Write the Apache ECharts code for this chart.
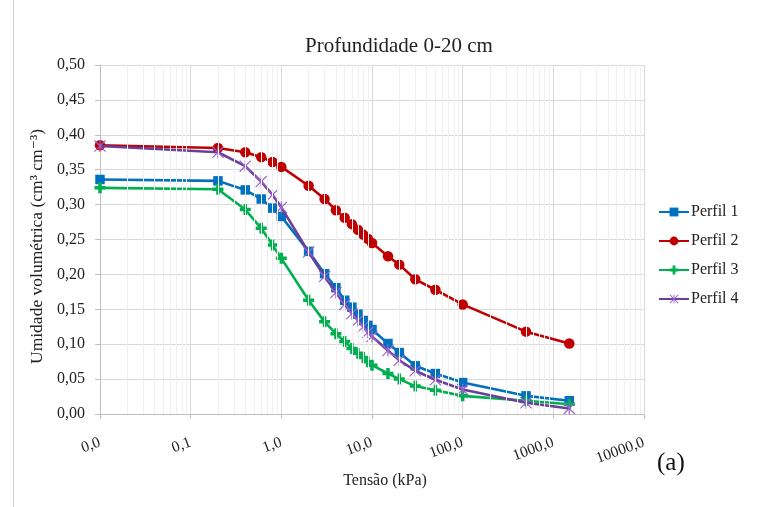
<!DOCTYPE html>
<html>
<head>
<meta charset="utf-8">
<script src="https://cdn.jsdelivr.net/npm/echarts@6/dist/echarts.min.js"></script>
<style>
  html, body { margin: 0; padding: 0; background: #fff; }
  #chart { width: 772px; height: 507px; }
</style>
</head>
<body>
<div id="chart"></div>
<script>
// tensões (kPa) - 0,0 plotado como 0,01 no eixo log
var tensao = [0.01, 0.2, 0.4, 0.6, 0.8, 1, 2, 3, 4, 5, 6, 7, 8, 9, 10, 15, 20, 30, 50, 100, 500, 1500];
var perfil1 = [0.336, 0.334, 0.321, 0.308, 0.295, 0.283, 0.233, 0.201, 0.181, 0.163, 0.153, 0.143, 0.134, 0.127, 0.121, 0.101, 0.088, 0.069, 0.058, 0.045, 0.026, 0.019];
var perfil2 = [0.385, 0.381, 0.375, 0.368, 0.361, 0.354, 0.327, 0.308, 0.292, 0.281, 0.272, 0.264, 0.257, 0.251, 0.245, 0.226, 0.214, 0.193, 0.178, 0.157, 0.118, 0.101];
var perfil3 = [0.324, 0.322, 0.293, 0.266, 0.242, 0.223, 0.163, 0.132, 0.115, 0.104, 0.094, 0.087, 0.081, 0.075, 0.070, 0.058, 0.050, 0.040, 0.034, 0.026, 0.019, 0.014];
var perfil4 = [0.384, 0.375, 0.355, 0.333, 0.314, 0.296, 0.232, 0.197, 0.174, 0.157, 0.144, 0.134, 0.125, 0.117, 0.111, 0.091, 0.077, 0.062, 0.049, 0.035, 0.016, 0.008];
var nomes = ['Perfil 1', 'Perfil 2', 'Perfil 3', 'Perfil 4'];

var serif = '"Liberation Serif", "DejaVu Serif", serif';

// linhas de grade secundárias (2..9 x 10^k), como no Excel
var minorLines = [];
for (var k = -2; k < 4; k++) {
    for (var m = 2; m < 10; m++) {
        minorLines.push({ xAxis: m * Math.pow(10, k) });
    }
}

function pares(ys) {
    return ys.map(function (y, i) { return [tensao[i], y]; });
}

var plusPath = 'path://M-1.6,-5L1.6,-5L1.6,-1.6L5,-1.6L5,1.6L1.6,1.6L1.6,5L-1.6,5L-1.6,1.6L-5,1.6L-5,-1.6L-1.6,-1.6Z';
var starPath = 'path://M-0.5,-5L0.5,-5L0.5,5L-0.5,5Z M-5,-4.3L-4.3,-5L5,4.3L4.3,5Z M4.3,-5L5,-4.3L-4.3,5L-5,4.3Z';

var chart = echarts.init(document.getElementById('chart'));
var option = {
    backgroundColor: '#fff',
    animation: false,
    title: {
        text: 'Profundidade 0-20 cm',
        left: 300,
        top: 31,
        textStyle: { fontFamily: serif, fontSize: 21, fontWeight: 'normal', color: '#222' }
    },
    legend: {
        data: nomes,
        orient: 'vertical',
        left: 653,
        top: 199,
        itemWidth: 30,
        itemHeight: 11,
        itemGap: 13,
        textStyle: { fontFamily: serif, fontSize: 16, color: '#222', padding: [0, 0, 0, -3] }
    },
    grid: { left: 100, right: 128, top: 65, bottom: 93 },
    xAxis: {
        type: 'log',
        logBase: 10,
        min: 0.01,
        max: 10000,
        splitNumber: 6,
        name: 'Tensão (kPa)',
        nameLocation: 'middle',
        nameGap: 58,
        nameTextStyle: { fontFamily: serif, fontSize: 16, color: '#222', padding: [0, 0, 0, 26] },
        axisLine: { lineStyle: { color: '#bfbfbf', width: 1 } },
        axisTick: { show: true, length: 5, lineStyle: { color: '#bfbfbf' } },
        axisLabel: {
            rotate: 20,
            margin: 28,
            fontFamily: serif,
            fontSize: 15.5,
            color: '#222',
            formatter: function (v) { return v.toFixed(1).replace('.', ','); }
        },
        splitLine: { show: true, lineStyle: { color: '#d9d9d9', width: 1 } }
    },
    yAxis: {
        type: 'value',
        min: 0,
        max: 0.5,
        interval: 0.05,
        name: 'Umidade volumétrica (cm³ cm⁻³)',
        nameLocation: 'middle',
        nameGap: 50,
        nameTextStyle: { fontFamily: serif, fontSize: 17.5, color: '#222', padding: [0, 0, 0, -14] },
        axisLine: { show: true, lineStyle: { color: '#bfbfbf', width: 1 } },
        axisTick: { show: true, length: 5, lineStyle: { color: '#bfbfbf' } },
        axisLabel: {
            margin: 15,
            fontFamily: serif,
            fontSize: 16,
            color: '#222',
            formatter: function (v) { return v.toFixed(2).replace('.', ','); }
        },
        splitLine: { show: true, lineStyle: { color: '#d9d9d9', width: 1 } }
    },
    graphic: [
        {
            type: 'line',
            shape: { x1: 13.5, y1: 0, x2: 13.5, y2: 507 },
            style: { stroke: '#d4d4d4', lineWidth: 1 }
        },
        {
            type: 'text',
            left: 657,
            top: 451,
            style: { text: '(a)', font: '25px ' + serif, fill: '#111' }
        }
    ],
    series: [
        {
            name: 'grade',
            type: 'line',
            data: [],
            silent: true,
            z: 1,
            markLine: {
                silent: true,
                symbol: ['none', 'none'],
                label: { show: false },
                lineStyle: { color: '#efefef', width: 1, type: 'solid' },
                data: minorLines
            }
        },
        {
            name: nomes[0], type: 'line', z: 3,
            data: pares(perfil1),
            symbol: 'rect', symbolSize: 9.5,
            lineStyle: { color: '#0070C0', width: 2.6 },
            itemStyle: { color: '#0070C0' }
        },
        {
            name: nomes[1], type: 'line', z: 3,
            data: pares(perfil2),
            symbol: 'circle', symbolSize: 10.5,
            lineStyle: { color: '#C00000', width: 2.6 },
            itemStyle: { color: '#C00000' }
        },
        {
            name: nomes[2], type: 'line', z: 3,
            data: pares(perfil3),
            symbol: plusPath, symbolSize: 11,
            lineStyle: { color: '#00B050', width: 2.6 },
            itemStyle: { color: '#00B050' }
        },
        {
            name: nomes[3], type: 'line', z: 4,
            data: pares(perfil4),
            symbol: starPath, symbolSize: 12,
            lineStyle: { color: '#6B3E99', width: 2.6 },
            itemStyle: { color: '#9966CC' }
        }
    ]
};
chart.setOption(option);
</script>
</body>
</html>
